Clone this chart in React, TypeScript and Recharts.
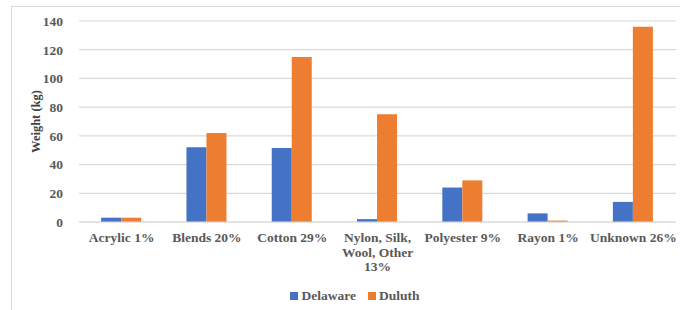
import React from 'react';
import { BarChart, Bar, XAxis, YAxis, CartesianGrid, Legend, Label } from 'recharts';

const categories = [
  'Acrylic 1%',
  'Blends 20%',
  'Cotton 29%',
  'Nylon, Silk, Wool, Other 13%',
  'Polyester 9%',
  'Rayon 1%',
  'Unknown 26%',
];
const delaware = [3, 52, 51.5, 2, 24, 6, 14];
const duluth = [3, 62, 115, 75, 29, 1, 136];
const yTicks = [0, 20, 40, 60, 80, 100, 120, 140];

const tickLines: Record<string, string[]> = {
  'Nylon, Silk, Wool, Other 13%': ['Nylon, Silk,', 'Wool, Other', '13%'],
};

const data = categories.map((name, i) => ({
  name,
  Delaware: delaware[i],
  Duluth: duluth[i],
}));

const FONT = '"Liberation Serif", "Times New Roman", serif';
const BLUE = '#4472c4';
const ORANGE = '#ed7d31';

const CategoryTick = ({ x, y, payload }: any) => {
  const lines = tickLines[payload.value] || [payload.value];
  return (
    <text
      x={x}
      y={y + 12}
      textAnchor="middle"
      fill="#595959"
      fontFamily={FONT}
      fontWeight="bold"
      fontSize={13.5}
    >
      {lines.map((l: string, i: number) => (
        <tspan key={i} x={x} dy={i === 0 ? 0 : 14.5}>
          {l}
        </tspan>
      ))}
    </text>
  );
};

const LegendContent = () => (
  <div
    style={{
      display: 'flex',
      justifyContent: 'center',
      alignItems: 'center',
      fontFamily: FONT,
      fontWeight: 'bold',
      fontSize: 13.5,
      color: '#595959',
      marginLeft: 24,
      marginTop: 6,
    }}
  >
    {[
      { name: 'Delaware', color: BLUE },
      { name: 'Duluth', color: ORANGE },
    ].map((s) => (
      <span key={s.name} style={{ display: 'flex', alignItems: 'center', marginRight: 12 }}>
        <span style={{ width: 8, height: 8, background: s.color, display: 'inline-block', marginRight: 3 }} />
        {s.name}
      </span>
    ))}
  </div>
);

export default function App() {
  return (
    <div
      style={{
        position: 'absolute',
        left: 11,
        top: 6,
        width: 700,
        height: 320,
        border: '1px solid #d9d9d9',
        background: '#fff',
        overflow: 'hidden',
      }}
    >
      <BarChart
        width={668}
        height={303}
        data={data}
        margin={{ top: 14, right: 4, bottom: 0, left: 10 }}
        barCategoryGap="26%"
        barGap={0}
      >
        <CartesianGrid vertical={false} stroke="#d9d9d9" strokeWidth={1.2} />
        <XAxis
          dataKey="name"
          interval={0}
          tickLine={false}
          axisLine={{ stroke: '#d9d9d9', strokeWidth: 1.2 }}
          tick={<CategoryTick />}
          height={60}
        />
        <YAxis
          domain={[0, 140]}
          ticks={yTicks}
          width={57}
          axisLine={false}
          tickLine={false}
          tickMargin={10}
          tick={{ fill: '#595959', fontFamily: FONT, fontWeight: 'bold', fontSize: 13.5 }}
        >
          <Label
            value="Weight (kg)"
            angle={-90}
            position="insideLeft"
            offset={14}
            style={{ fill: '#404040', fontFamily: FONT, fontWeight: 'bold', fontSize: 12.5, textAnchor: 'middle' }}
          />
        </YAxis>
        <Legend verticalAlign="bottom" height={28} content={<LegendContent />} />
        <Bar dataKey="Delaware" fill={BLUE} isAnimationActive={false} />
        <Bar dataKey="Duluth" fill={ORANGE} isAnimationActive={false} />
      </BarChart>
    </div>
  );
}
